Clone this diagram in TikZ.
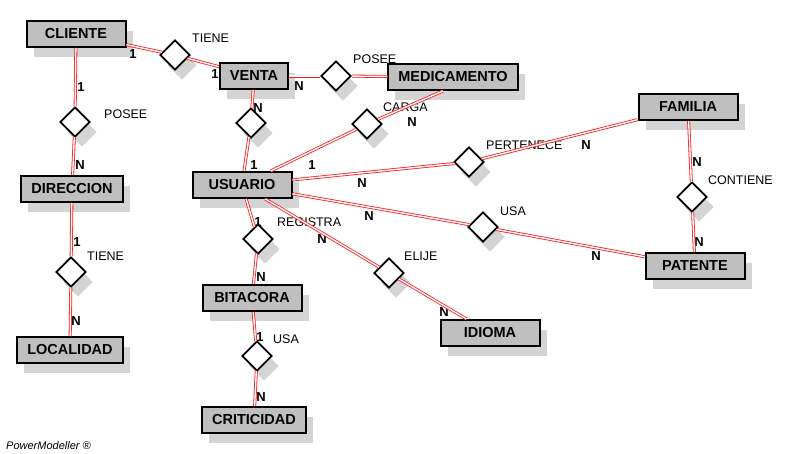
\documentclass[tikz,border=0pt]{standalone}
\usepackage{fontspec}
\setmainfont{Liberation Sans}
\usetikzlibrary{positioning,shapes.geometric,shadows}
\tikzset{
      entidad/.style={
        draw=black,
        line width=2pt,
        fill=black!25,
        minimum width=99pt,
        minimum height=26pt,
        inner xsep=10pt,
        inner ysep=0pt,
        font=\fontsize{14.5}{16}\selectfont\bfseries,
        drop shadow={fill=black!17, opacity=1, shadow xshift=7pt, shadow yshift=-10pt}
      },
      relacion/.style={
        diamond,
        draw=black,
        line width=1.8pt,
        fill=white,
        minimum width=30pt,
        minimum height=30pt,
        inner sep=0pt,
        drop shadow={fill=black!17, opacity=1, shadow xshift=7pt, shadow yshift=-10pt}
      },
      rolname/.style={anchor=west, inner sep=0pt, font=\fontsize{12.5}{14}\selectfont},
      card/.style={inner sep=0pt, font=\fontsize{13}{14}\selectfont\bfseries},
      enlace/.style={draw=red!90, double=white, line width=0.8pt, double distance=1.4pt}
    }

\begin{document}
\begin{tikzpicture}[x=1pt,y=-1pt]
    \fill[white] (0,0) rectangle (801,453);
    \useasboundingbox (0,0) rectangle (801,453);
    % entidades
    \node[entidad] (cliente) at (76,34) {CLIENTE};
    \node[entidad, minimum width=66pt] (venta) at (254,76) {VENTA};
    \node[entidad] (medicamento) at (453,77) {MEDICAMENTO};
    \node[entidad] (familia) at (688,107) {FAMILIA};
    \node[entidad] (usuario) at (242,185) {USUARIO};
    \node[entidad] (direccion) at (72,189) {DIRECCION};
    \node[entidad] (patente) at (695,266) {PATENTE};
    \node[entidad] (bitacora) at (252,298) {BITACORA};
    \node[entidad] (idioma) at (490,333) {IDIOMA};
    \node[entidad] (localidad) at (70,350) {LOCALIDAD};
    \node[entidad] (criticidad) at (254,420) {CRITICIDAD};
    % relaciones
    \node[relacion] (tieneCV) at (175,55) {};
    \node[relacion] (poseeCD) at (75,122) {};
    \node[relacion] (poseeVM) at (336,76) {};
    \node[relacion] (ventaUs) at (251,123) {};
    \node[relacion] (carga) at (367,124) {};
    \node[relacion] (pertenece) at (469,162) {};
    \node[relacion] (contiene) at (692,197) {};
    \node[relacion] (usaUP) at (483,227) {};
    \node[relacion] (registra) at (258,239) {};
    \node[relacion] (elije) at (389,273) {};
    \node[relacion] (tieneDL) at (71,272) {};
    \node[relacion] (usaBC) at (257,356) {};
    % nombres
    \node[rolname] (ntieneCV) at (192,38) {TIENE};
    \node[rolname] (nposeeCD) at (104,114) {POSEE};
    \node[rolname] (nposeeVM) at (353,59) {POSEE};
    \node[rolname] (ncarga) at (383,107) {CARGA};
    \node[rolname] (npertenece) at (486,145) {PERTENECE};
    \node[rolname] (ncontiene) at (708,180) {CONTIENE};
    \node[rolname] (nusaUP) at (500,211) {USA};
    \node[rolname] (nregistra) at (277,222) {REGISTRA};
    \node[rolname] (nelije) at (404,256) {ELIJE};
    \node[rolname] (ntieneDL) at (87,256) {TIENE};
    \node[rolname] (nusaBC) at (273,339) {USA};
    % cardinalidades
    \foreach \x/\y/\t [count=\i] in {133/54/1, 215/74/1, 81/87/1, 80/165/N, 299/86/N, 258/108/N,
        254/165/1, 312/165/1, 412/122/N, 362/183/N, 586/145/N, 697/162/N, 699/242/N,
        369/216/N, 596/256/N, 258/222/1, 322/239/N, 261/277/N, 444/312/N, 77/242/1,
        76/321/N, 260/337/1, 261/397/N}
      \node[card] (card\i) at (\x,\y) {\t};
    % enlaces
    \draw[enlace] (cliente) -- (tieneCV);
    \draw[enlace] (tieneCV) -- (venta);
    \draw[enlace] (cliente) -- (poseeCD);
    \draw[enlace] (poseeCD) -- (direccion);
    \draw[enlace] (venta) -- (poseeVM);
    \draw[enlace] (poseeVM) -- (medicamento);
    \draw[enlace] (venta) -- (ventaUs);
    \draw[enlace] (ventaUs) -- (usuario);
    \draw[enlace] (usuario) -- (carga);
    \draw[enlace] (carga) -- ([xshift=-10pt]medicamento.south);
    \draw[enlace] (usuario) -- (pertenece);
    \draw[enlace] (pertenece) -- (familia);
    \draw[enlace] (familia) -- (contiene);
    \draw[enlace] (contiene) -- (patente);
    \draw[enlace] (usuario) -- (usaUP);
    \draw[enlace] (usaUP) -- (patente);
    \draw[enlace] (usuario) -- (registra);
    \draw[enlace] (registra) -- (bitacora);
    \draw[enlace] (usuario) -- (elije);
    \draw[enlace] (elije) -- (idioma);
    \draw[enlace] (direccion) -- (tieneDL);
    \draw[enlace] (tieneDL) -- (localidad);
    \draw[enlace] (bitacora) -- (usaBC);
    \draw[enlace] (usaBC) -- (criticidad);
    \node[anchor=west, inner sep=0pt, font=\fontsize{11}{12}\selectfont\itshape] (marca) at (6,446) {PowerModeller ®};
\end{tikzpicture}
\end{document}
